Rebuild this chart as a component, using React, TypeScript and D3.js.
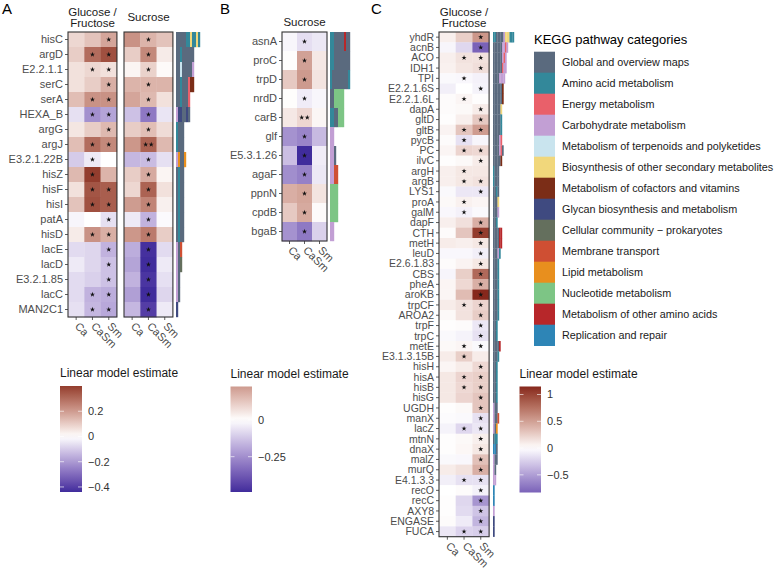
import React, { useRef, useEffect } from 'react';
import * as d3 from 'd3';

const FONT = '"Liberation Sans", Arial, Helvetica, sans-serif';
const HIGH = '#86281c';
const LOW = '#402c9c';

const conditions = ['Ca', 'CaSm', 'Sm'];

const categoryCodes = 'GAECTBFYPMLNOR';
const categoryNames = [
  'Global and overview maps',
  'Amino acid metabolism',
  'Energy metabolism',
  'Carbohydrate metabolism',
  'Metabolism of terpenoids and polyketides',
  'Biosynthesis of other secondary metabolites',
  'Metabolism of cofactors and vitamins',
  'Glycan biosynthesis and metabolism',
  'Cellular community \u2212 prokaryotes',
  'Membrane transport',
  'Lipid metabolism',
  'Nucleotide metabolism',
  'Metabolism of other amino acids',
  'Replication and repair',
];
const categoryColors = [
  '#5a6a7e', '#33889a', '#e9606a', '#c29fd4', '#c9e4ee', '#f1d77b', '#7b2d17',
  '#3f4a80', '#646f5d', '#cf4f33', '#e88f1e', '#7dc585', '#b7272a', '#2e85b6',
];

// ---- panel A ----
const genesA = ['hisC', 'argD', 'E2.2.1.1', 'serC', 'serA', 'HEXA_B', 'argG', 'argJ', 'E3.2.1.22B',
  'hisZ', 'hisF', 'hisI', 'patA', 'hisD', 'lacE', 'lacD', 'E3.2.1.85', 'lacC', 'MAN2C1'];
const estA_GF = [
  [0.08, 0.12, 0.18], [0.10, 0.30, 0.36], [0.06, 0.08, 0.06], [0.06, 0.10, 0.16], [0.13, 0.22, 0.22],
  [-0.06, -0.22, -0.18], [0.05, 0.10, 0.14], [0.13, 0.30, 0.24], [-0.10, -0.04, 0.00], [0.14, 0.40, 0.15],
  [0.06, 0.35, 0.33], [0.12, 0.36, 0.33], [-0.02, 0.00, -0.06], [0.04, 0.22, 0.16], [-0.07, -0.08, -0.15],
  [-0.04, -0.08, -0.12], [-0.07, -0.09, -0.12], [-0.07, -0.15, -0.16], [-0.06, -0.14, -0.17],
];
const sigA_GF = ['001', '011', '011', '001', '011', '011', '001', '011', '010', '010',
  '011', '011', '001', '011', '001', '001', '001', '011', '011'];
const estA_Suc = [
  [0.22, 0.15, 0.12], [0.10, 0.24, 0.04], [0.02, 0.09, 0.01], [0.15, 0.15, 0.15], [0.18, 0.14, 0.06],
  [-0.12, -0.27, -0.05], [0.10, 0.13, 0.07], [0.21, 0.32, 0.14], [-0.14, -0.13, -0.06], [0.10, 0.17, 0.02],
  [0.08, 0.32, 0.06], [0.20, 0.25, 0.03], [-0.04, -0.15, -0.01], [0.21, 0.27, 0.10], [-0.16, -0.43, -0.07],
  [-0.18, -0.44, -0.04], [-0.15, -0.42, -0.06], [-0.19, -0.44, -0.08], [-0.14, -0.40, -0.04],
];
const sigA_Suc = ['010', '010', '010', '010', '010', '010', '010', '020', '010', '010',
  '010', '010', '010', '010', '010', '010', '010', '010', '010'];
const pathA = ['GGGGGAABAABA', 'GGAGGGGGG', 'GGTGGGGGC', 'GGAGGGEFF', 'GGAGGGE', 'CYYGGYG', 'AGGG', 'AGGG',
  'CLGGL', 'GAGG', 'GAGG', 'GAGG', 'GAGG', 'GAGG', 'CGM', 'CGP', 'CG', 'CG', 'Y'];

// ---- panel B ----
const genesB = ['asnA', 'proC', 'trpD', 'nrdD', 'carB', 'glf', 'E5.3.1.26', 'agaF', 'ppnN', 'cpdB', 'bgaB'];
const estB = [
  [-0.02, -0.07, -0.05], [0.005, 0.21, 0.05], [0.12, 0.227, 0.06], [0.005, -0.04, -0.02], [0.05, 0.09, 0.02],
  [-0.24, -0.27, -0.15], [-0.14, -0.49, -0.04], [-0.25, -0.28, -0.05], [0.18, 0.20, 0.06], [0.12, 0.19, 0.01],
  [-0.24, -0.30, -0.10],
];
const sigB = ['010', '010', '010', '010', '020', '010', '010', '010', '010', '010', '010'];
const pathB = ['AAGGGGGOGG', 'AAGGGGGGGG', 'AGGGGGGGGA', 'GGNNNNN', 'AAGGNNN', 'CC', 'CCG', 'CCMM', 'NNNN', 'NNNN', 'CC'];

// ---- panel C ----
const genesC = ['yhdR', 'acnB', 'ACO', 'IDH1', 'TPI', 'E2.2.1.6S', 'E2.2.1.6L', 'dapA', 'gltD', 'gltB', 'pycB',
  'PC', 'ilvC', 'argH', 'argB', 'LYS1', 'proA', 'galM', 'dapF', 'CTH', 'metH', 'leuD', 'E2.6.1.83', 'CBS',
  'pheA', 'aroKB', 'trpCF', 'AROA2', 'trpF', 'trpC', 'metE', 'E3.1.3.15B', 'hisH', 'hisA', 'hisB', 'hisG',
  'UGDH', 'manX', 'lacZ', 'mtnN', 'dnaX', 'malZ', 'murQ', 'E4.1.3.3', 'recO', 'recC', 'AXY8', 'ENGASE', 'FUCA'];
const estC = [
  [0.08, 0.25, 0.55], [-0.05, -0.20, -0.83], [0.08, 0.15, 0.15], [0.07, 0.13, 0.17], [-0.03, -0.04, -0.07],
  [-0.08, 0.00, -0.06], [0.02, 0.05, 0.01], [0.02, 0.03, 0.10], [0.01, 0.08, 0.28], [0.06, 0.30, 0.52],
  [0.02, -0.15, -0.05], [0.05, 0.22, 0.20], [0.01, 0.03, 0.10], [0.08, 0.12, 0.12], [0.08, 0.12, 0.15],
  [-0.03, -0.12, -0.12], [0.03, 0.07, 0.05], [-0.04, -0.07, -0.03], [0.08, 0.16, 0.42], [0.02, 0.30, 1.05],
  [0.10, 0.08, 0.12], [-0.04, -0.04, -0.08], [0.02, 0.06, 0.12], [-0.05, 0.25, 0.80], [0.05, 0.20, 0.42],
  [0.05, 0.35, 1.15], [0.10, 0.15, 0.22], [0.03, 0.15, 0.26], [0.01, 0.02, -0.12], [-0.03, -0.06, -0.15],
  [0.03, 0.05, -0.03], [0.10, 0.25, 0.10], [0.05, 0.10, 0.20], [0.12, 0.22, 0.25], [0.12, 0.20, 0.25],
  [0.12, 0.22, 0.30], [0.01, 0.03, 0.30], [-0.02, -0.03, -0.15], [-0.06, -0.20, -0.12], [0.01, 0.03, 0.08],
  [0.01, 0.04, 0.12], [-0.03, -0.04, 0.32], [0.10, 0.15, 0.42], [-0.08, -0.15, -0.15], [0.00, 0.02, -0.07],
  [0.01, -0.20, -0.55], [0.01, -0.18, -0.30], [0.02, -0.10, -0.38], [-0.12, -0.22, -0.25],
];
const sigC = ['001', '001', '011', '001', '010', '001', '010', '001', '001', '011', '010', '011', '001',
  '010', '011', '001', '010', '010', '001', '001', '001', '001', '001', '001', '001', '001', '011', '001',
  '001', '001', '011', '010', '001', '011', '011', '001', '001', '001', '011', '001', '001', '001', '001',
  '011', '001', '001', '001', '001', '011'];
const pathC = ['AAGGGGGCBBBAAA', 'GGGGGGCCEC', 'GGGGGGCEC', 'GGGGGGECC', 'GGGGCCCC', 'GGGGGGF', 'GGGGGGF',
  'GGGGGB', 'GGGGGA', 'GGGGGA', 'GGGGCE', 'GGGGCEG', 'GGGGGF', 'AGGG', 'AGGG', 'GGAG', 'GGGB', 'GGGC',
  'GGA', 'GGGGOO', 'GGGGOO', 'GGGCA', 'GGGA', 'GGGA', 'GGGA', 'GGGA', 'GGGA', 'GGGA', 'GGA', 'GGA',
  'GGGGO', 'GGGA', 'GGA', 'GGA', 'GGA', 'GGA', 'CGG', 'CGGM', 'CGL', 'GAA', 'RRG', 'CGG', 'CG', 'CC',
  'R', 'R', 'C', 'Y', 'Y'];

const ticksA = [0.2, 0, -0.2, -0.4];
const ticksB = [0, -0.25];
const ticksC = [1, 0.5, 0, -0.5];

const fmt = (v: number) => (v < 0 ? '\u2212' + String(-v) : String(v));

const makeColor = (values: number[][]) => {
  const m = d3.max(values.flat(), (v) => Math.abs(v)) as number;
  const pos = d3.interpolateLab('#ffffff', HIGH);
  const neg = d3.interpolateLab('#ffffff', LOW);
  return (v: number) => (v >= 0 ? pos(Math.min(v / m, 1)) : neg(Math.min(-v / m, 1)));
};

const star = d3.symbol().type(d3.symbolStar).size(8);

function heatmap(g: any, o: any) {
  const { x0, y0, colW, rowH, genes, values, sig, color, labels, labelSize, paths, unit, annotX } = o;
  const x = d3.scaleBand().domain(conditions).range([x0, x0 + colW * 3]);
  const y = d3.scaleBand().domain(genes).range([y0, y0 + rowH * genes.length]);
  const cells = genes.flatMap((gene: string, i: number) =>
    conditions.map((c, j) => ({ gene, c, v: values[i][j], s: +sig[i][j] })));

  g.selectAll(null).data(cells).enter().append('rect')
    .attr('x', (d: any) => x(d.c)).attr('y', (d: any) => y(d.gene))
    .attr('width', x.bandwidth() + 0.3).attr('height', y.bandwidth() + 0.3)
    .attr('fill', (d: any) => color(d.v));

  cells.filter((d: any) => d.s > 0).forEach((d: any) => {
    const cx = (x(d.c) as number) + x.bandwidth() / 2;
    const cy = (y(d.gene) as number) + y.bandwidth() / 2;
    const offs = d.s === 2 ? [-2.8, 2.8] : [0];
    offs.forEach((dx) => {
      g.append('path').attr('d', star).attr('fill', '#111')
        .attr('transform', `translate(${cx + dx},${cy})`);
    });
  });

  const bottom = y0 + rowH * genes.length;
  g.append('rect').attr('x', x0).attr('y', y0).attr('width', colW * 3).attr('height', rowH * genes.length)
    .attr('fill', 'none').attr('stroke', '#333').attr('stroke-width', 1.1);

  conditions.forEach((c) => {
    const cx = (x(c) as number) + x.bandwidth() / 2;
    g.append('line').attr('x1', cx).attr('x2', cx).attr('y1', bottom).attr('y2', bottom + 3)
      .attr('stroke', '#333').attr('stroke-width', 0.8);
    g.append('text').attr('transform', `translate(${cx - 2},${bottom + 10}) rotate(45)`)
      .attr('font-size', 11).attr('fill', '#4d4d4d').text(c);
  });

  if (labels) {
    genes.forEach((gene: string) => {
      const cy = (y(gene) as number) + y.bandwidth() / 2;
      g.append('line').attr('x1', x0 - 3).attr('x2', x0).attr('y1', cy).attr('y2', cy)
        .attr('stroke', '#333').attr('stroke-width', 0.8);
      g.append('text').attr('x', x0 - 5).attr('y', cy).attr('dy', '0.35em')
        .attr('text-anchor', 'end').attr('font-size', labelSize).attr('fill', '#4d4d4d').text(gene);
    });
  }

  if (paths) {
    const maxU = d3.max(paths, (p: string) => p.length) as number;
    const px = d3.scaleLinear().domain([0, maxU]).range([annotX, annotX + maxU * unit]);
    genes.forEach((gene: string, i: number) => {
      paths[i].split('').forEach((code: string, k: number) => {
        g.append('rect').attr('x', px(k)).attr('y', y(gene))
          .attr('width', px(k + 1) - px(k) + 0.2).attr('height', y.bandwidth() + 0.2)
          .attr('fill', categoryColors[categoryCodes.indexOf(code)]);
      });
    });
  }
}

function colorLegend(g: any, o: any) {
  const { x, y, w, h, values, ticks, color, id } = o;
  const ext = d3.extent(values.flat() as number[]) as [number, number];
  const sy = d3.scaleLinear().domain(ext).range([y + h, y]);
  const grad = g.append('defs').append('linearGradient').attr('id', id)
    .attr('x1', 0).attr('y1', 1).attr('x2', 0).attr('y2', 0);
  d3.range(0, 21).forEach((i) => {
    const v = ext[0] + ((ext[1] - ext[0]) * i) / 20;
    grad.append('stop').attr('offset', i / 20).attr('stop-color', color(v));
  });
  g.append('text').attr('x', x).attr('y', y - 9).attr('font-size', 12).attr('fill', '#1a1a1a')
    .text('Linear model estimate');
  g.append('rect').attr('x', x).attr('y', y).attr('width', w).attr('height', h).attr('fill', `url(#${id})`);
  ticks.forEach((t: number) => {
    const ty = sy(t);
    [[x, x + 4], [x + w - 4, x + w]].forEach(([a, b]) => {
      g.append('line').attr('x1', a).attr('x2', b).attr('y1', ty).attr('y2', ty)
        .attr('stroke', '#fff').attr('stroke-opacity', 0.8).attr('stroke-width', 0.8);
    });
    g.append('text').attr('x', x + w + 6).attr('y', ty).attr('dy', '0.35em')
      .attr('font-size', 11).attr('fill', '#333').text(fmt(t));
  });
}

const App = () => {
  const svgRef = useRef<SVGSVGElement>(null);

  useEffect(() => {
    const svg = d3.select(svgRef.current);
    svg.selectAll('*').remove();
    const root = svg.append('g').attr('font-family', FONT);

    const colorA = makeColor([...estA_GF, ...estA_Suc]);
    const colorB = makeColor(estB);
    const colorC = makeColor(estC);

    // panel letters
    [['A', 2], ['B', 220], ['C', 371]].forEach(([t, x]) => {
      root.append('text').attr('x', x).attr('y', 14).attr('font-size', 15).attr('fill', '#000').text(t as string);
    });

    // strip titles
    const title = (lines: string[], cx: number, y: number) => {
      lines.forEach((l, i) => root.append('text').attr('x', cx).attr('y', y + i * 11.5)
        .attr('text-anchor', 'middle').attr('font-size', 11.5).attr('fill', '#1a1a1a').text(l));
    };
    title(['Glucose /', 'Fructose'], 92.5, 15.5);
    title(['Sucrose'], 148.5, 21);
    title(['Sucrose'], 304.5, 26);
    title(['Glucose /', 'Fructose'], 464, 15.5);

    heatmap(root, { x0: 68, y0: 32, colW: 16.3, rowH: 15, genes: genesA, values: estA_GF, sig: sigA_GF,
      color: colorA, labels: true, labelSize: 11 });
    heatmap(root, { x0: 124, y0: 32, colW: 16.3, rowH: 15, genes: genesA, values: estA_Suc, sig: sigA_Suc,
      color: colorA, labels: false, paths: pathA, unit: 2, annotX: 176 });
    heatmap(root, { x0: 282, y0: 32, colW: 15, rowH: 19, genes: genesB, values: estB, sig: sigB,
      color: colorB, labels: true, labelSize: 11, paths: pathB, unit: 2, annotX: 330 });
    heatmap(root, { x0: 439, y0: 32, colW: 16.7, rowH: 10.3, genes: genesC, values: estC, sig: sigC,
      color: colorC, labels: true, labelSize: 10.5, paths: pathC, unit: 1.5, annotX: 493 });

    colorLegend(root, { x: 60, y: 386, w: 22, h: 106, values: [...estA_GF, ...estA_Suc], ticks: ticksA,
      color: colorA, id: 'gA' });
    colorLegend(root, { x: 230.5, y: 386.5, w: 21.5, h: 105.5, values: estB, ticks: ticksB, color: colorB, id: 'gB' });
    colorLegend(root, { x: 519.5, y: 386.5, w: 21.5, h: 106, values: estC, ticks: ticksC, color: colorC, id: 'gC' });

    // KEGG legend
    const kg = root.append('g');
    kg.append('text').attr('x', 534).attr('y', 44).attr('font-size', 13).attr('fill', '#000')
      .text('KEGG pathway categories');
    const ky = d3.scaleBand().domain(categoryNames).range([51.7, 51.7 + 21 * categoryNames.length]);
    categoryNames.forEach((name, i) => {
      kg.append('rect').attr('x', 534).attr('y', ky(name)).attr('width', 21).attr('height', ky.bandwidth() + 0.3)
        .attr('fill', categoryColors[i]);
      kg.append('text').attr('x', 562).attr('y', (ky(name) as number) + ky.bandwidth() / 2).attr('dy', '0.35em')
        .attr('font-size', 10.8).attr('fill', '#1a1a1a').text(name);
    });
  }, []);

  return (
    <svg ref={svgRef} width={778} height={569}
      style={{ position: 'absolute', left: 0, top: 0, background: '#fff' }} />
  );
};

export default App;
